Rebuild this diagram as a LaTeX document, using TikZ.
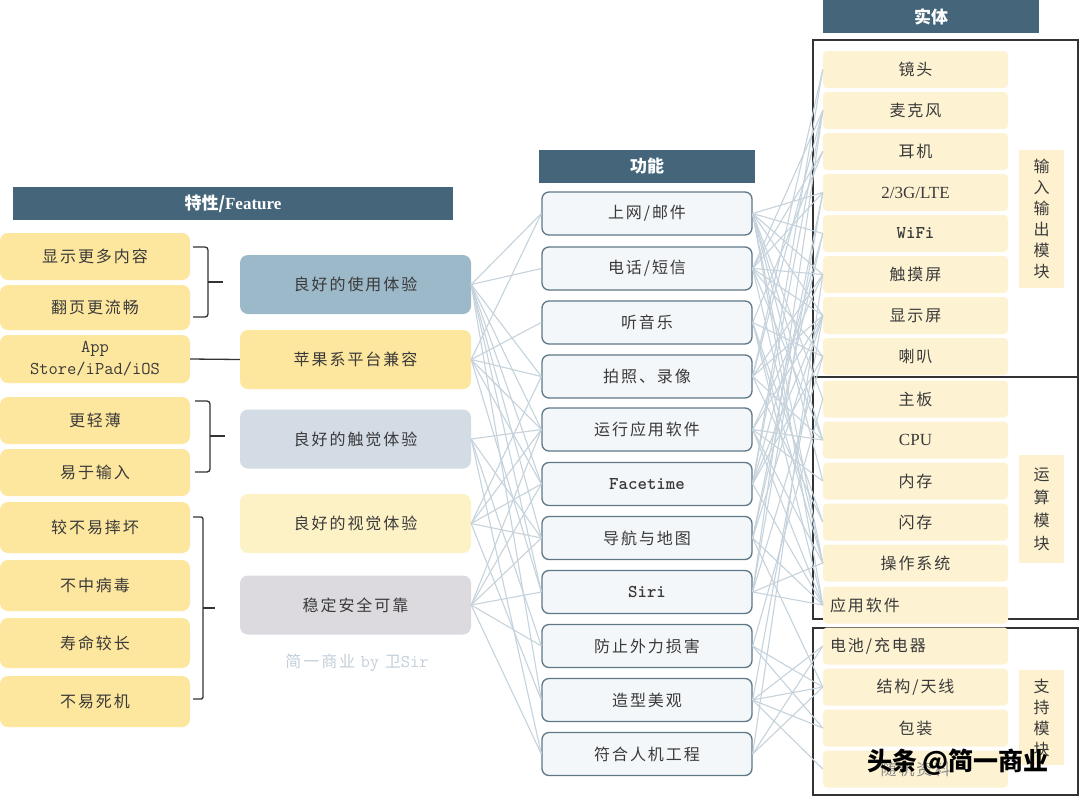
\documentclass[tikz,border=0pt]{standalone}
\usepackage{fontspec}
\newfontfamily\cjk[LetterSpace=12]{Noto Sans CJK SC}
\newfontfamily\cjkn{Noto Sans CJK SC}
\newfontfamily\tnr{Liberation Serif}
\definecolor{hdr}{HTML}{45667A}
\definecolor{ylw}{HTML}{FDE69D}
\definecolor{useb}{HTML}{9CB9C9}
\definecolor{touch}{HTML}{D3DCE5}
\definecolor{vis}{HTML}{FDF2C6}
\definecolor{stab}{HTML}{DCDADE}
\definecolor{item}{HTML}{FDF3D3}
\definecolor{side}{HTML}{FDF1CF}
\definecolor{conn}{HTML}{C6D3DC}
\definecolor{fbd}{HTML}{5E7888}
\definecolor{ffill}{HTML}{F4F7F9}
\definecolor{txt}{HTML}{3A3A3A}
\definecolor{wm}{HTML}{C3CFD8}
\tikzset{
  hdrbox/.style={fill=hdr, text=white, minimum height=33pt, inner sep=0pt, font=\cjkn\fontsize{17}{20}\selectfont\bfseries},
  lbox/.style={fill=ylw, rounded corners=8pt, minimum width=190pt, inner sep=0pt, text=txt, font=\cjk\fontsize{16}{22}\selectfont, align=center},
  fbox/.style={rounded corners=8pt, minimum width=231pt, minimum height=59pt, inner sep=0pt, text=txt, font=\cjk\fontsize{16}{20}\selectfont},
  gbox/.style={fill=ffill, draw=fbd, line width=1.3pt, rounded corners=7pt, minimum width=210pt, minimum height=43pt, inner sep=0pt, text=txt, font=\cjk\fontsize{16}{20}\selectfont},
  rbox/.style={fill=item, rounded corners=4pt, minimum width=185pt, minimum height=37pt, inner sep=0pt, text=txt, font=\cjk\fontsize{16}{20}\selectfont},
  sidebox/.style={fill=side, minimum width=45pt, inner sep=0pt, text=txt, font=\cjkn\fontsize{16}{21}\selectfont, align=center},
  connl/.style={draw=conn, line width=1.1pt},
  brk/.style={draw=black!80, line width=1.3pt},
  frame/.style={draw=black!80, line width=1.5pt},
  latin/.style={font=\ttfamily\bfseries\fontsize{18}{21}\selectfont},
}
\begin{document}
\begin{tikzpicture}[x=1pt,y=-1pt]
\useasboundingbox (0,0) rectangle (1080,796);
\fill[white] (0,0) rectangle (1080,796);

% ---------- headers
\node[hdrbox, minimum width=440pt] (h1) at (233,203.5) {特性/{\tnr\bfseries Feature}};
\node[hdrbox, minimum width=216pt] (h2) at (647,166.5) {功能};
\node[hdrbox, minimum width=216pt] (h3) at (931,16.5) {实体};

% ---------- frames on the right
\draw[frame] (813,40) rectangle (1078,377);
\draw[frame] (813,377) rectangle (1078,619);
\draw[frame] (813,628) rectangle (1078,795);

% left column
\node[lbox, minimum height=47pt] (l1) at (95,256.5) {显示更多内容};
\node[lbox, minimum height=45pt] (l2) at (95,307.5) {翻页更流畅};
\node[lbox, minimum height=48pt, font=\ttfamily\fontsize{18}{22}\selectfont] (l3) at (95,359) {App\\Store/iPad/iOS};
\node[lbox, minimum height=47pt] (l4) at (95,420.5) {更轻薄};
\node[lbox, minimum height=47pt] (l5) at (95,472.5) {易于输入};
\node[lbox, minimum height=51pt] (l6) at (95,527.5) {较不易摔坏};
\node[lbox, minimum height=51pt] (l7) at (95,585.5) {不中病毒};
\node[lbox, minimum height=50pt] (l8) at (95,643) {寿命较长};
\node[lbox, minimum height=51pt] (l9) at (95,701.5) {不易死机};

% feature column
\node[fbox, fill=useb] (f1) at (355.5,284.5) {良好的使用体验};
\node[fbox, fill=ylw] (f2) at (355.5,359.5) {苹果系平台兼容};
\node[fbox, fill=touch] (f3) at (355.5,439) {良好的触觉体验};
\node[fbox, fill=vis] (f4) at (355.5,523.5) {良好的视觉体验};
\node[fbox, fill=stab] (f5) at (355.5,605) {稳定安全可靠};
\node[text=wm, font=\cjk\fontsize{16}{20}\selectfont] (wm1) at (357,663) {简一商业 {\ttfamily\fontsize{18}{20}\selectfont by} 卫{\ttfamily\fontsize{18}{20}\selectfont Sir}};

% function column
\node[gbox] (g1) at (647,213.5) {上网/邮件};
\node[gbox] (g2) at (647,268.5) {电话/短信};
\node[gbox] (g3) at (647,322.5) {听音乐};
\node[gbox] (g4) at (647,376.5) {拍照、录像};
\node[gbox] (g5) at (647,429.5) {运行应用软件};
\node[gbox, latin] (g6) at (647,484) {Facetime};
\node[gbox] (g7) at (647,538) {导航与地图};
\node[gbox, latin] (g8) at (647,592) {Siri};
\node[gbox] (g9) at (647,646) {防止外力损害};
\node[gbox] (g10) at (647,700) {造型美观};
\node[gbox] (g11) at (647,754) {符合人机工程};

% ---------- connectors (left)
\foreach \a/\b in {f1/g1,f1/g2,f1/g4,f1/g5,f1/g6,f1/g7,f1/g8,f1/g10,
                   f2/g1,f2/g3,f2/g4,f2/g5,f2/g6,f2/g8,
                   f3/g5,f3/g7,f3/g9,f3/g11,
                   f4/g4,f4/g5,f4/g6,f4/g7,f4/g10,
                   f5/g5,f5/g6,f5/g7,f5/g8,f5/g9,f5/g11}
  \draw[connl] (\a.east) -- (\b.west);

% right items
\node[rbox] (r1) at (915.5,69.5) {镜头};
\node[rbox] (r2) at (915.5,110.5) {麦克风};
\node[rbox] (r3) at (915.5,151.5) {耳机};
\node[rbox, font=\tnr\fontsize{17}{20}\selectfont] (r4) at (915.5,192.5) {2/3G/LTE};
\node[rbox, latin] (r5) at (915.5,233.5) {WiFi};
\node[rbox] (r6) at (915.5,274.5) {触摸屏};
\node[rbox] (r7) at (915.5,315.5) {显示屏};
\node[rbox] (r8) at (915.5,356.5) {喇叭};
\node[rbox] (r9) at (915.5,399) {主板};
\node[rbox, font=\tnr\fontsize{17}{20}\selectfont] (r10) at (915.5,440) {CPU};
\node[rbox] (r11) at (915.5,481) {内存};
\node[rbox] (r12) at (915.5,522) {闪存};
\node[rbox] (r13) at (915.5,563) {操作系统};
\node[rbox, text width=171pt, align=left] (r14) at (915.5,605) {应用软件};
\node[rbox, text width=171pt, align=left] (r15) at (915.5,646) {电池/充电器};
\node[rbox] (r16) at (915.5,687) {结构/天线};
\node[rbox] (r17) at (915.5,728) {包装};
\node[rbox, text=txt!60] (r18) at (915.5,769) {随机资料};

% ---------- connectors (right)
\foreach \a/\b in {g1/r4,g1/r5,g1/r6,g1/r7,g1/r9,g1/r10,g1/r11,g1/r13,g1/r14,
                   g2/r2,g2/r3,g2/r4,g2/r6,g2/r7,g2/r8,g2/r10,g2/r13,
                   g3/r3,g3/r8,g3/r12,g3/r13,g3/r14,
                   g4/r1,g4/r2,g4/r6,g4/r7,g4/r10,g4/r12,
                   g5/r6,g5/r7,g5/r10,g5/r11,g5/r13,g5/r14,
                   g6/r1,g6/r2,g6/r5,g6/r7,g6/r8,g6/r14,
                   g7/r4,g7/r5,g7/r7,g7/r14,g7/r16,
                   g8/r2,g8/r4,g8/r8,g8/r13,g8/r14,
                   g9/r9,g9/r16,g9/r17,
                   g10/r7,g10/r15,g10/r16,g10/r17,g10/r18,
                   g11/r6,g11/r15,g11/r16}
  \draw[connl] (\a.east) -- (\b.west);

% side labels
\node[sidebox, minimum height=138pt] (s1) at (1041.5,219) {输\\入\\输\\出\\模\\块};
\node[sidebox, minimum height=108pt, font=\cjkn\fontsize{16}{23}\selectfont] (s2) at (1041.5,509) {运\\算\\模\\块};
\node[sidebox, minimum height=95pt, font=\cjkn\fontsize{16}{21}\selectfont] (s3) at (1041.5,717.5) {支\\持\\模\\块};

% ---------- braces and link
\coordinate (b1t) at (193,247); \coordinate (b1b) at (193,317); \coordinate (b1m) at (223,282);
\draw[brk, rounded corners=3pt] (b1t) -- (208,247) -- (208,317) -- (b1b);
\draw[brk] (208,282) -- (b1m);
\coordinate (b2t) at (195,401); \coordinate (b2b) at (195,472); \coordinate (b2m) at (225,436);
\draw[brk, rounded corners=3pt] (b2t) -- (210,401) -- (210,472) -- (b2b);
\draw[brk] (210,436) -- (b2m);
\coordinate (b3t) at (193,517); \coordinate (b3b) at (193,699); \coordinate (b3m) at (215,608);
\draw[brk, rounded corners=2pt] (b3t) -- (203,517) -- (203,699) -- (b3b);
\draw[brk] (203,608) -- (b3m);
\draw[brk] (l3.east) -- (f2.west);

% ---------- overlay watermark
\node[text=black, font=\cjkn\fontsize{25}{28}\selectfont\bfseries] (wm2) at (958,762) {头条 @简一商业};
\end{tikzpicture}
\end{document}
